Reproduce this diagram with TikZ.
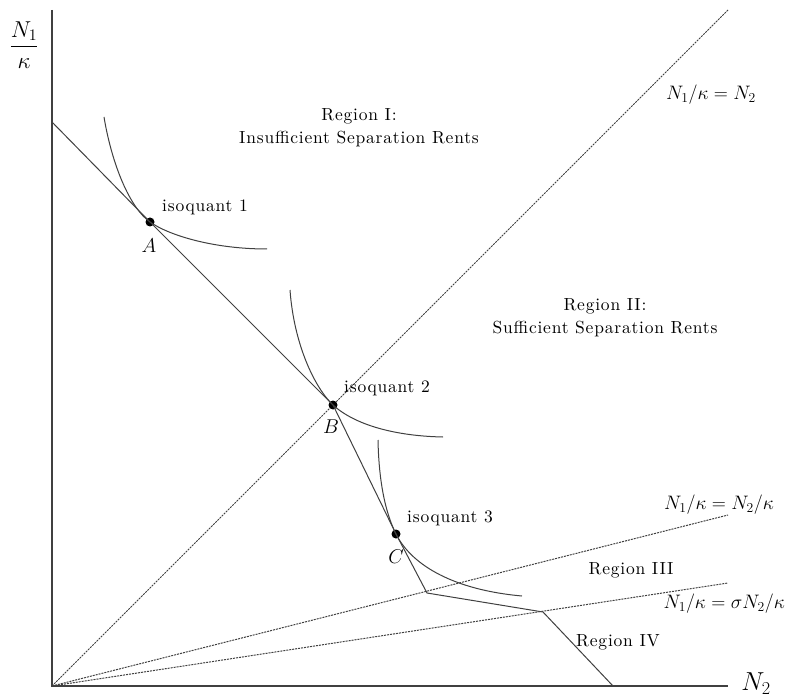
\RequirePackage{fix-cm}
\documentclass[tikz,border=0pt]{standalone}
\usepackage{amsmath}
\usepackage{fontspec}
\newfontfamily\spacedrm{lmroman10-regular.otf}[LetterSpace=4.5]
\begin{document}
\begin{tikzpicture}[x=1pt,y=-1pt,
  axis/.style={draw=black!75,line width=1.2pt},
  solidln/.style={draw=black!75,line width=1pt},
  dashln/.style={draw=black!75,line width=1pt,dash pattern=on 2pt off 1pt},
  txt/.style={font=\spacedrm\fontsize{17.5}{21}\selectfont,align=center,inner sep=0pt},
  mlab/.style={font=\fontsize{19.5}{22}\selectfont,inner sep=0pt},
  ptlab/.style={font=\fontsize{20}{22}\selectfont,inner sep=0pt},
  dot/.style={circle,fill=black,inner sep=0pt,minimum size=9pt}]
\useasboundingbox (0,0) rectangle (786,700);
% key points
\coordinate (O) at (52,686);
\coordinate (Ytop) at (52,10);
\coordinate (Xend) at (728,686);
\coordinate (D1) at (728,10);
\coordinate (D2) at (728,515);
\coordinate (D3) at (728,583);
\coordinate (L0) at (52,122);
\coordinate (K1) at (427,593);
\coordinate (K2) at (543,612);
\coordinate (L4) at (613,686);
% axes
\draw[axis] (Ytop) -- (O) -- (Xend);
% rays
\draw[dashln] (O) -- (D1);
\draw[dashln] (O) -- (D2);
\draw[dashln] (O) -- (D3);
% points
\node[dot] (A) at (150,222) {};
\node[dot] (B) at (333,405) {};
\node[dot] (C) at (396,534) {};
% budget line
\draw[solidln] (L0) -- (A.center) -- (B.center) -- (C.center) -- (K1) -- (K2) -- (L4);
% isoquants
\draw[solidln] (104,117) .. controls (112,165) and (130,208) .. (A.center)
  .. controls (170,236) and (215,249) .. (267,249);
\draw[solidln] (290,290) .. controls (294,345) and (315,388) .. (B.center)
  .. controls (355,425) and (395,436) .. (443,437);
\draw[solidln] (378,440) .. controls (379,490) and (388,518) .. (C.center)
  .. controls (412,566) and (455,590) .. (522,596);
% labels
\node[mlab,font=\fontsize{23}{26}\selectfont] (ylab) at (24,45) {$\dfrac{N_1}{\kappa}$};
\node[mlab,font=\fontsize{26}{28}\selectfont] (xlab) at (756,684) {$N_2$};
\node[mlab] (l1) at (711,95) {$N_1/\kappa = N_2$};
\node[mlab] (l2) at (719,505) {$N_1/\kappa = N_2/\kappa$};
\node[mlab,anchor=east] (l3) at (785,604) {$N_1/\kappa = \sigma N_2/\kappa$};
\node[ptlab] (la) at (149,246) {$A$};
\node[ptlab] (lb) at (331,427) {$B$};
\node[ptlab] (lc) at (396,557) {$C$};
\node[txt] (r1) at (359,128) {Region I:\\[2pt]Insufficient Separation Rents};
\node[txt] (r2) at (605,318) {Region II:\\[2pt]Sufficient Separation Rents};
\node[txt] (r3) at (631,570) {Region III};
\node[txt] (r4) at (618,642) {Region IV};
\node[txt] (i1) at (205,207) {isoquant\ 1};
\node[txt] (i2) at (387,388) {isoquant\ 2};
\node[txt] (i3) at (450,518) {isoquant\ 3};
\end{tikzpicture}
\end{document}
